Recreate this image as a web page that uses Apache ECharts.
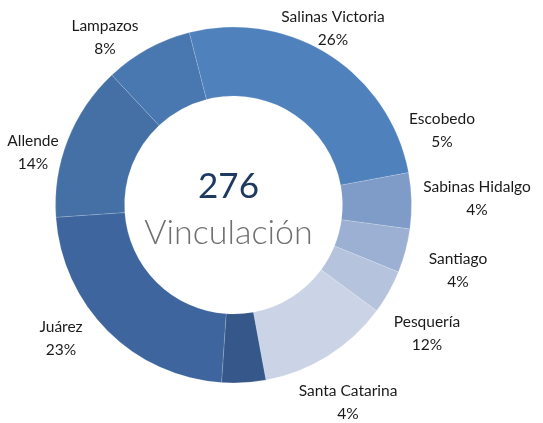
<!DOCTYPE html>
<html><head><meta charset="utf-8">
<script src="https://cdn.jsdelivr.net/npm/echarts@6/dist/echarts.min.js"></script>
<style>html,body{margin:0;padding:0;background:#fff}#c{width:543px;height:423px}</style>
</head><body><div id="c"></div>
<script>
var categories = ['Salinas Victoria','Escobedo','Sabinas Hidalgo','Santiago','Pesquería','Santa Catarina','Juárez','Allende','Lampazos'];
var values = [72, 14, 11, 11, 33, 11, 63, 39, 22];
var colors = ['#4F81BD','#7F9CC8','#9CB0D3','#B5C3DD','#CBD4E6','#36578A','#3E659E','#4470A6','#4977B0'];
var totalText = '276';
var centerLabel = 'Vinculación';
// label anchor positions (layout only)
var labelPos = [[333,28],[442,130],[477,198],[458,270],[427,333],[348,402],[61,338],[33,152],[105,37]];

var chart = echarts.init(document.getElementById('c'), null, {renderer:'canvas'});
var data = categories.map(function(n,i){return {name:n, value:values[i], itemStyle:{color:colors[i]}};});
chart.setOption({
  animation:false,
  backgroundColor:'#fff',
  graphic:[
    {type:'text', style:{text:totalText, x:228.5, y:187, align:'center', verticalAlign:'middle', font:'400 35px Lato', fill:'#1F3A60'}},
    {type:'text', style:{text:centerLabel, x:228.5, y:233, align:'center', verticalAlign:'middle', font:'300 34px Lato', fill:'#707070'}}
  ],
  series:[{
    type:'pie',
    center:[233.5,205],
    radius:[109,178],
    startAngle:104.4,
    clockwise:true,
    avoidLabelOverlap:false,
    itemStyle:{borderColor:'rgba(255,255,255,0.3)', borderWidth:0.5},
    label:{
      show:true, position:'outside', color:'#1a1a1a',
      fontFamily:'Lato', fontSize:15.5, lineHeight:23, align:'center',
      formatter:function(p){return p.name+'\n'+Math.round(p.percent)+'%';}
    },
    labelLine:{show:false},
    labelLayout:function(p){var q=labelPos[p.dataIndex];return {x:q[0], y:q[1], align:'center', verticalAlign:'middle'};},
    emphasis:{disabled:true},
    data:data
  }]
});
</script></body></html>
